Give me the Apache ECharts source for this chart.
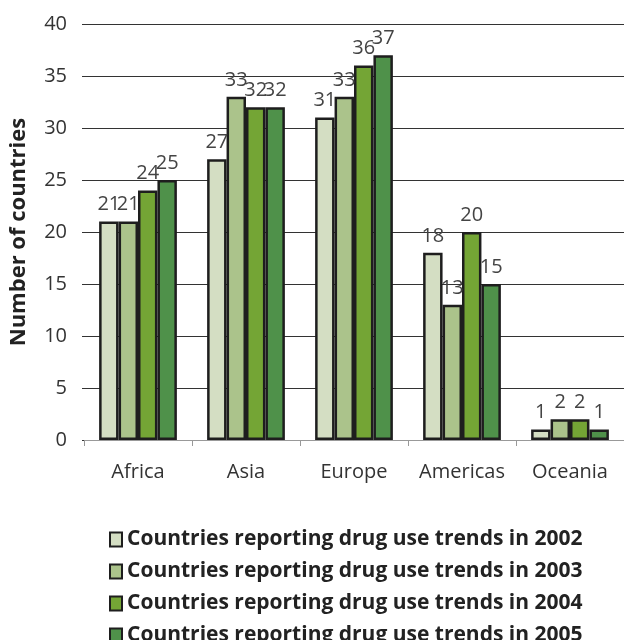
<!DOCTYPE html>
<html><head><meta charset="utf-8">
<script src="https://cdn.jsdelivr.net/npm/echarts@6/dist/echarts.min.js"></script>
<style>html,body{margin:0;padding:0;background:#fff}#c{width:624px;height:640px}</style>
</head><body><div id="c"></div>
<script>
const categories = ['Africa', 'Asia', 'Europe', 'Americas', 'Oceania'];
const seriesNames = [
  'Countries reporting drug use trends in 2002',
  'Countries reporting drug use trends in 2003',
  'Countries reporting drug use trends in 2004',
  'Countries reporting drug use trends in 2005'
];
const v2002 = [21, 27, 31, 18, 1];
const v2003 = [21, 33, 33, 13, 2];
const v2004 = [24, 32, 36, 20, 2];
const v2005 = [25, 32, 37, 15, 1];
const colors = ['#d4dec3', '#abc38b', '#74a535', '#4f914a'];
const allValues = [v2002, v2003, v2004, v2005];

const chart = echarts.init(document.getElementById('c'));
const font = '"Open Sans", "Noto Sans", sans-serif';
chart.setOption({
  animation: false,
  grid: { left: 84, right: 0, top: 24, bottom: 200, outerBoundsMode: 'none', containLabel: false },
  legend: {
    orient: 'vertical', left: 104, top: 524, height: 200,
    itemWidth: 12, itemHeight: 14, itemGap: 11,
    icon: 'rect',
    textStyle: { fontFamily: font, fontWeight: 'bold', fontSize: 21, color: '#222' },
    data: seriesNames
  },
  xAxis: {
    type: 'category', data: categories,
    axisLine: { lineStyle: { color: '#999', width: 1 } },
    axisTick: { show: true, length: 6, lineStyle: { color: '#999' } },
    axisLabel: { interval: 0, fontFamily: font, fontSize: 20, color: '#333', margin: 22 }
  },
  yAxis: {
    type: 'value', min: 0, max: 40, interval: 5,
    name: 'Number of countries', nameLocation: 'middle', nameGap: 54,
    nameTextStyle: { fontFamily: font, fontWeight: 'bold', fontSize: 22, color: '#222' },
    axisLine: { show: false },
    axisTick: { show: true, length: 2, lineStyle: { color: '#333' } },
    axisLabel: { fontFamily: font, fontSize: 20, color: '#333', margin: 17 },
    splitLine: { lineStyle: { color: '#333', width: 1 } }
  },
  series: allValues.map((vals, i) => ({
    name: seriesNames[i], type: 'bar', data: vals,
    barGap: '0%', barCategoryGap: '28%',
    itemStyle: { color: colors[i], borderColor: '#1e1e1e', borderWidth: 2.5 },
    label: { show: true, position: 'top', distance: 7, fontFamily: font, fontSize: 20, color: '#444' }
  }))
});
</script></body></html>
